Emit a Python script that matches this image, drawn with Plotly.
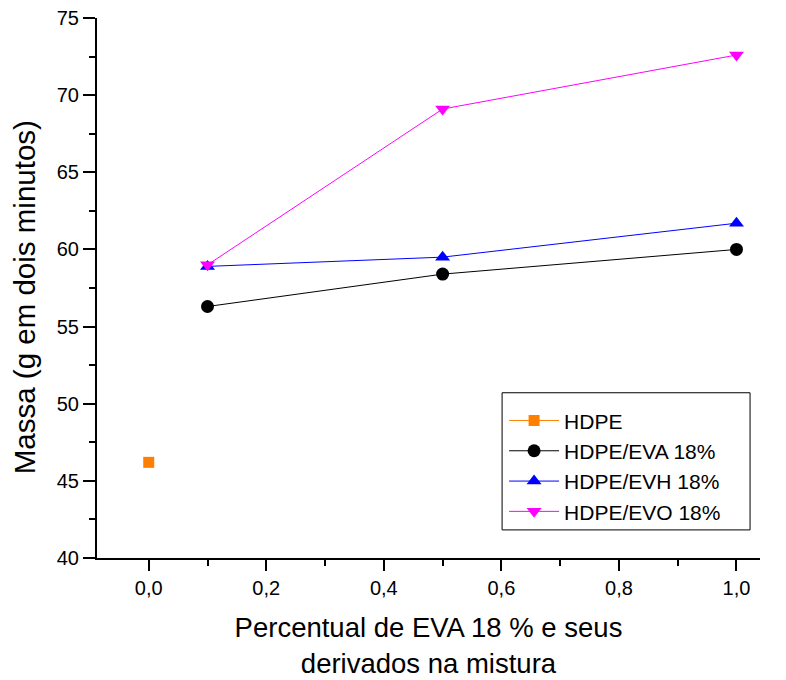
import plotly.graph_objects as go

# dados
x_hdpe = [0.0]
y_hdpe = [46.2]

x_mist = [0.1, 0.5, 1.0]
y_eva = [56.3, 58.4, 60.0]
y_evh = [58.9, 59.5, 61.7]
y_evo = [59.0, 69.1, 72.6]

x_ticks = [0.0, 0.2, 0.4, 0.6, 0.8, 1.0]
x_tick_labels = ['0,0', '0,2', '0,4', '0,6', '0,8', '1,0']

fig = go.Figure()

fig.add_trace(go.Scatter(x=x_hdpe, y=y_hdpe, mode='lines+markers', name='HDPE',
                         line=dict(color='#FF8000', width=1),
                         marker=dict(symbol='square', size=11, color='#FF8000')))
fig.add_trace(go.Scatter(x=x_mist, y=y_eva, mode='lines+markers', name='HDPE/EVA 18%',
                         line=dict(color='black', width=1),
                         marker=dict(symbol='circle', size=13, color='black')))
fig.add_trace(go.Scatter(x=x_mist, y=y_evh, mode='lines+markers', name='HDPE/EVH 18%',
                         line=dict(color='#0000FF', width=1),
                         marker=dict(symbol='triangle-up', size=13, color='#0000FF')))
fig.add_trace(go.Scatter(x=x_mist, y=y_evo, mode='lines+markers', name='HDPE/EVO 18%',
                         line=dict(color='#FF00FF', width=1),
                         marker=dict(symbol='triangle-down', size=13, color='#FF00FF')))

# caixa da legenda desenhada à parte (papel)
fig.add_shape(type='rect', xref='paper', yref='paper',
              x0=0.611, x1=0.985, y0=0.052, y1=0.306,
              line=dict(color='black', width=1), fillcolor='white', layer='below')

# título do eixo y como anotação, para acertar a posição
fig.add_annotation(text='Massa (g em dois minutos)', xref='paper', yref='paper',
                   x=-0.110, y=0.483, textangle=-90, showarrow=False,
                   xanchor='center', yanchor='middle', font=dict(size=29.5))

# a página tem margem de 8 px no body: compensar nas margens
fig.update_layout(
    width=786, height=680,
    margin=dict(l=89, r=34, t=10, b=130),
    plot_bgcolor='white', paper_bgcolor='white',
    font=dict(family='Liberation Sans, Arial, sans-serif', color='black', size=20),
    showlegend=True,
    legend=dict(x=0.614, y=0.292, xanchor='left', yanchor='top',
                borderwidth=0, bgcolor='rgba(0,0,0,0)',
                font=dict(size=21), itemwidth=50),
)

fig.update_xaxes(
    range=[-0.088, 1.04], tickvals=x_ticks, ticktext=x_tick_labels,
    automargin=False, ticklabeloverflow='allow',
    showgrid=False, zeroline=False, showline=True, linecolor='black', linewidth=2,
    ticks='outside', ticklen=11, tickwidth=2, tickcolor='black',
    minor=dict(dtick=0.1, tick0=0, ticks='outside', ticklen=6, tickwidth=2, tickcolor='black'),
    tickfont=dict(size=20),
    title=dict(text='Percentual de EVA 18 % e seus<br>derivados na mistura',
               font=dict(size=27.5), standoff=20),
)
fig.update_yaxes(
    range=[40, 75], dtick=5,
    automargin=False, ticklabeloverflow='allow',
    showgrid=False, zeroline=False, showline=True, linecolor='black', linewidth=2,
    ticks='outside', ticklen=12, tickwidth=2, tickcolor='black',
    minor=dict(dtick=2.5, ticks='outside', ticklen=6, tickwidth=2, tickcolor='black'),
    tickfont=dict(size=20),
)

fig.write_html("out.html")
